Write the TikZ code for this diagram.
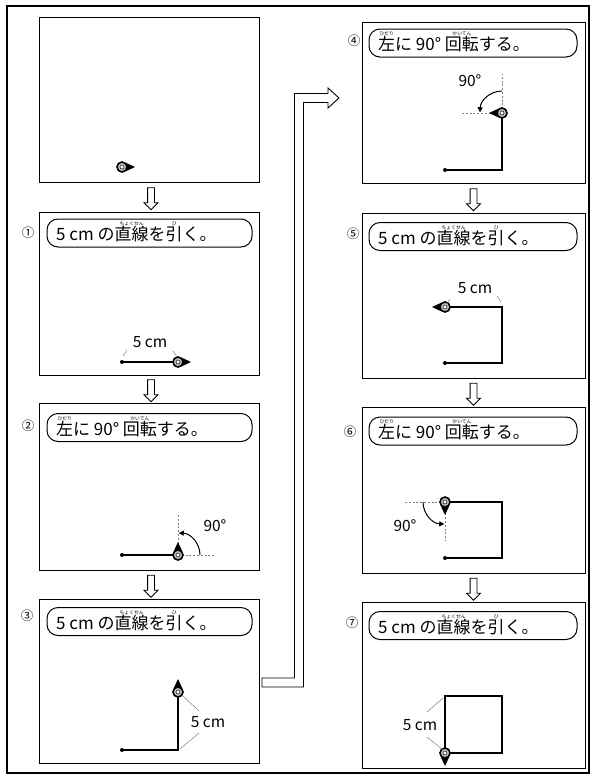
\documentclass[tikz,border=0pt]{standalone}
\usepackage{fontspec}
\setmainfont{Noto Sans CJK JP}
\usetikzlibrary{shapes.arrows,arrows.meta,calc}

\newcommand\myruby[2]{\setbox0\hbox{#1}\hbox to \wd0{\hss\raisebox{0.9em}[0pt][0pt]{\makebox[0pt]{\fontsize{4.8}{5}\selectfont #2}}\hss}\kern-\wd0\box0}

\tikzset{
  frameline/.style={draw, line width=1.3pt, inner sep=0pt, outer sep=0pt},
  panel/.style={draw, line width=1pt, inner sep=0pt, outer sep=0pt},
  ttl/.style={draw, line width=1pt, rounded corners=11pt, minimum height=28pt, inner sep=0pt, outer sep=0pt},
  ttltext/.style={anchor=west, inner sep=0pt, font=\fontsize{17}{18}\selectfont},
  numlbl/.style={inner sep=0pt, font=\fontsize{12.5}{13}\selectfont},
  lbl/.style={inner sep=0pt, font=\fontsize{15.5}{17}\selectfont},
  dnarrow/.style={single arrow, draw, line width=0.9pt, rotate=-90, minimum height=22pt,
    inner sep=3pt, single arrow head extend=3.5pt, outer sep=0pt},
  bigarrow/.style={draw, line width=0.9pt, line join=miter},
  trace/.style={line width=1.2pt, line join=miter},
  aux/.style={gray, line width=0.8pt, dash pattern=on 2pt off 1.8pt},
  leader/.style={gray, line width=0.5pt},
  arcarrow/.style={line width=1pt, -{Triangle[length=5pt,width=5pt]}},
  startdot/.style={fill=black},
  turtle/.pic={
    \fill[black] (4,-4.2) -- (13,0) -- (4,4.2) -- cycle;
    \draw[line width=1.6pt, fill=gray!50] (0,0) circle[radius=5];
    \draw[line width=0.5pt, fill=white] (0,0) circle[radius=2];
  }
}

\begin{document}
\begin{tikzpicture}[x=1pt,y=-1pt]
\useasboundingbox (0,0) rectangle (596,777);
\fill[white] (0,0) rectangle (596,777);

% outer frame
\node[frameline, minimum width=582pt, minimum height=767pt] (frame) at (298,389.5) {};

% panels
\node[panel, minimum width=220pt, minimum height=165pt] (p0) at (149,99.5) {};
\node[panel, minimum width=220pt, minimum height=163pt] (p1) at (149,293.5) {};
\node[panel, minimum width=220pt, minimum height=167pt] (p2) at (149,486.5) {};
\node[panel, minimum width=220pt, minimum height=164pt] (p3) at (149,681) {};
\node[panel, minimum width=223pt, minimum height=161pt] (p4) at (473.5,102.5) {};
\node[panel, minimum width=223pt, minimum height=165pt] (p5) at (473.5,295.5) {};
\node[panel, minimum width=223pt, minimum height=166pt] (p6) at (473.5,490) {};
\node[panel, minimum width=223pt, minimum height=166pt] (p7) at (473.5,685) {};

% down arrows between panels
\node[dnarrow] (a01) at ($(p0.south)!0.5!(p1.north)+(2,0)$) {};
\node[dnarrow] (a12) at ($(p1.south)!0.5!(p2.north)+(2,0)$) {};
\node[dnarrow] (a23) at ($(p2.south)!0.5!(p3.north)+(2,0)$) {};
\node[dnarrow] (a45) at ($(p4.south)!0.5!(p5.north)$) {};
\node[dnarrow] (a56) at ($(p5.south)!0.5!(p6.north)$) {};
\node[dnarrow] (a67) at ($(p6.south)!0.5!(p7.north)$) {};

% big hollow connector from panel 3 to panel 4
\draw[bigarrow] (262,678) -- (294.5,678) -- (294.5,93.5) -- (328,93.5) -- (328,88)
  -- (339,98) -- (328,108) -- (328,102.5) -- (303.5,102.5) -- (303.5,687) -- (262,687) -- cycle;

% title boxes
\node[ttl, minimum width=205pt] (t1) at (149.5,233) {};
\node[ttl, minimum width=205pt] (t2) at (149.5,427.5) {};
\node[ttl, minimum width=205pt] (t3) at (149.5,621.5) {};
\node[ttl, minimum width=208pt] (t4) at (473,43) {};
\node[ttl, minimum width=208pt] (t5) at (473,236.5) {};
\node[ttl, minimum width=208pt] (t6) at (473,431) {};
\node[ttl, minimum width=208pt] (t7) at (473,625.5) {};

\node[ttltext] (x1) at ($(t1.west)+(9,1.5)$) {5 cm の\myruby{直線}{ちょくせん}を\myruby{引}{ひ}く。};
\node[ttltext] (x2) at ($(t2.west)+(9,1.5)$) {\myruby{左}{ひだり}に 90° \myruby{回転}{かいてん}する。};
\node[ttltext] (x3) at ($(t3.west)+(9,1.5)$) {5 cm の\myruby{直線}{ちょくせん}を\myruby{引}{ひ}く。};
\node[ttltext] (x4) at ($(t4.west)+(9,1.5)$) {\myruby{左}{ひだり}に 90° \myruby{回転}{かいてん}する。};
\node[ttltext] (x5) at ($(t5.west)+(9,1.5)$) {5 cm の\myruby{直線}{ちょくせん}を\myruby{引}{ひ}く。};
\node[ttltext] (x6) at ($(t6.west)+(9,1.5)$) {\myruby{左}{ひだり}に 90° \myruby{回転}{かいてん}する。};
\node[ttltext] (x7) at ($(t7.west)+(9,1.5)$) {5 cm の\myruby{直線}{ちょくせん}を\myruby{引}{ひ}く。};

% step numbers
\node[numlbl] (n1) at (28,233) {①};
\node[numlbl] (n2) at (28,426) {②};
\node[numlbl] (n3) at (27,616) {③};
\node[numlbl] (n4) at (354,41) {④};
\node[numlbl] (n5) at (353,234) {⑤};
\node[numlbl] (n6) at (350,432) {⑥};
\node[numlbl] (n7) at (352,623) {⑦};

% panel 0
\pic at (122,167) {turtle};

% panel 1
\draw[trace] (122,362) -- (178,362);
\fill[startdot] (122,362) circle[radius=2];
\pic at (178,362) {turtle};
\node[lbl] (l1) at (150,342) {5 cm};
\draw[leader] (123,356) -- (127,350);
\draw[leader] (173,351) -- (177,357);

% panel 2
\draw[aux] (178,555) -- (178,514);
\draw[aux] (178,555) -- (216,555);
\draw[trace] (122,555) -- (178,555);
\fill[startdot] (122,555) circle[radius=2];
\draw[arcarrow] (200,555) arc[start angle=0, end angle=-88, radius=22];
\pic[rotate=90] at (178,555) {turtle};
\node[lbl] (l2) at (215,526) {90°};

% panel 3
\draw[trace] (122,750) -- (178,750) -- (178,692);
\fill[startdot] (122,750) circle[radius=2];
\pic[rotate=90] at (178,692) {turtle};
\node[lbl] (l3) at (208,722) {5 cm};
\draw[leader] (182,695) -- (199,711);
\draw[leader] (199,733) -- (180,749);

% panel 4
\draw[aux] (502,113) -- (502,74);
\draw[aux] (502,113) -- (462,113);
\draw[trace] (445,170) -- (502,170) -- (502,113);
\fill[startdot] (445,170) circle[radius=2];
\draw[arcarrow] (502,91) arc[start angle=-90, end angle=-178, radius=22];
\pic[rotate=180] at (502,113) {turtle};
\node[lbl] (l4) at (470,81) {90°};

% panel 5
\draw[trace] (445,363) -- (502,363) -- (502,307) -- (445,307);
\fill[startdot] (445,363) circle[radius=2];
\pic[rotate=180] at (445,307) {turtle};
\node[lbl] (l5) at (475,288) {5 cm};
\draw[leader] (450,299) -- (447,304);
\draw[leader] (497,296) -- (501,302);

% panel 6
\draw[aux] (445,502) -- (404,502);
\draw[aux] (445,502) -- (445,541);
\draw[trace] (445,558) -- (502,558) -- (502,502) -- (445,502);
\fill[startdot] (445,558) circle[radius=2];
\draw[arcarrow] (423,502) arc[start angle=180, end angle=92, radius=22];
\pic[rotate=-90] at (445,502) {turtle};
\node[lbl] (l6) at (405,526) {90°};

% panel 7
\draw[trace] (445,753) -- (502,753) -- (502,696) -- (445,696) -- cycle;
\pic[rotate=-90] at (445,753) {turtle};
\node[lbl] (l7) at (420,725) {5 cm};
\draw[leader] (443,698) -- (427,712);
\draw[leader] (427,737) -- (443,750);

\end{tikzpicture}
\end{document}
